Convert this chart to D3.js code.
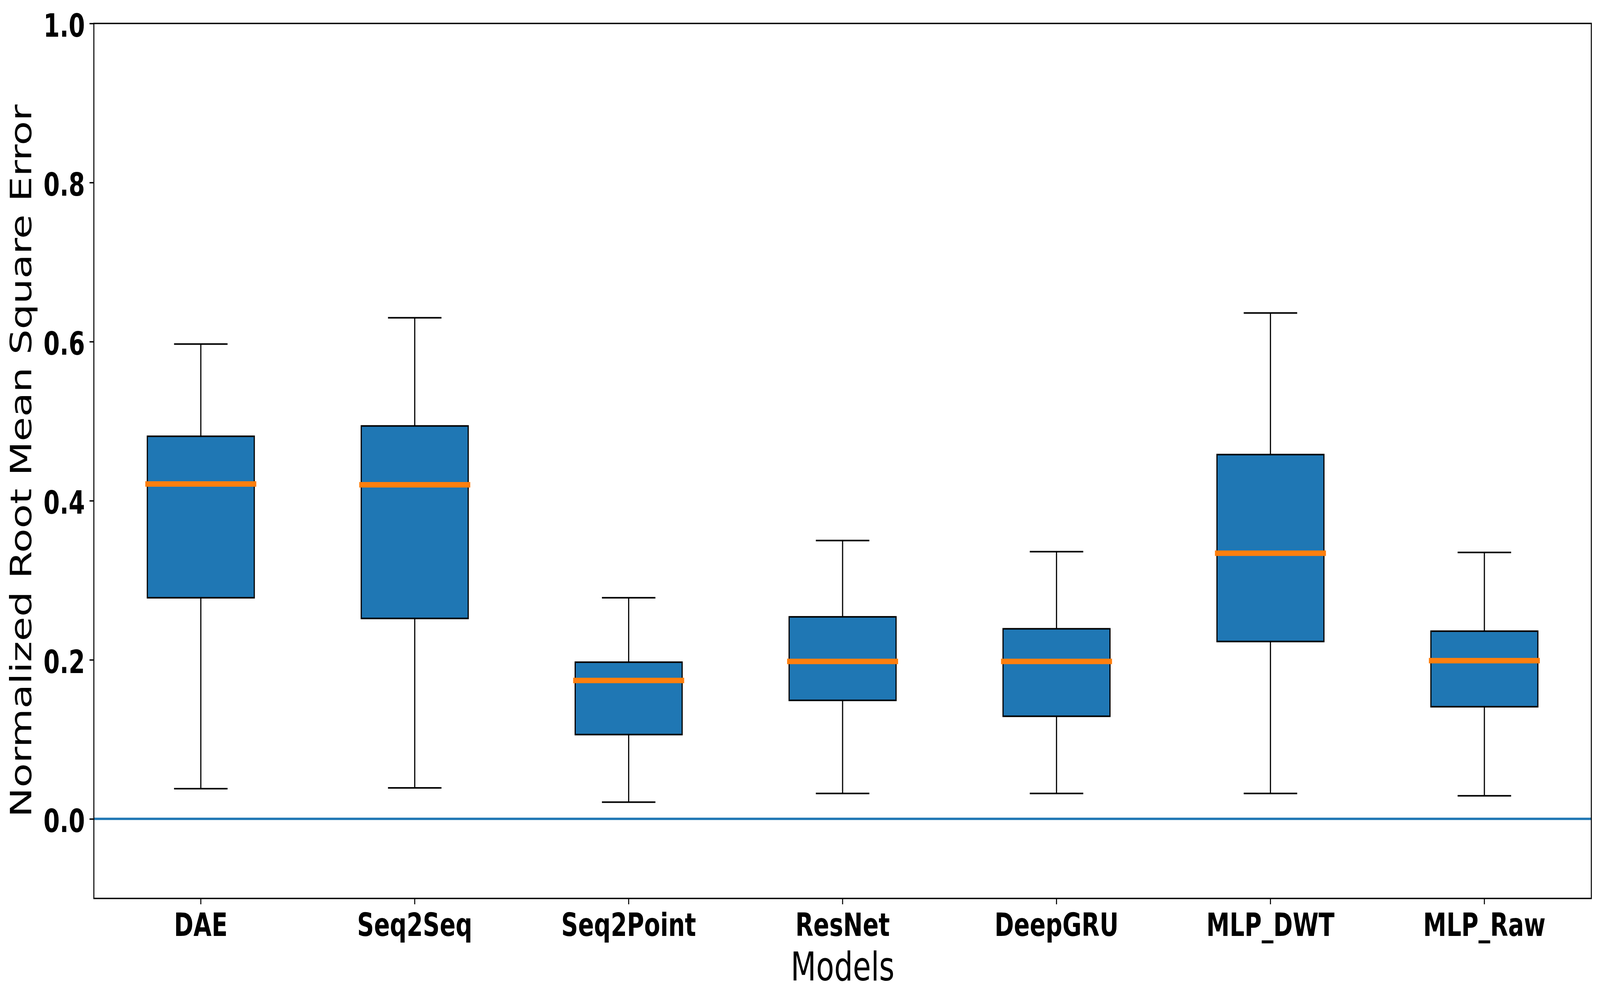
<!DOCTYPE html>
<html>
<head>
<meta charset="utf-8">
<script src="https://cdn.jsdelivr.net/npm/d3@7"></script>
<style>
  html, body { margin: 0; padding: 0; width: 100%; height: 100%; overflow: hidden; background: #ffffff; }
  svg { display: block; width: 100vw; height: 100vh; }
</style>
</head>
<body>
<svg id="chart" viewBox="0 0 5541 2560" preserveAspectRatio="none"></svg>
<script>
// ---- data ----
const categories = ["DAE", "Seq2Seq", "Seq2Point", "ResNet", "DeepGRU", "MLP_DWT", "MLP_Raw"];
const whiskerLow  = [0.038, 0.039, 0.021, 0.032, 0.032, 0.032, 0.029];
const q1          = [0.278, 0.252, 0.106, 0.149, 0.129, 0.223, 0.141];
const medians     = [0.421, 0.420, 0.174, 0.198, 0.198, 0.334, 0.199];
const q3          = [0.481, 0.494, 0.197, 0.254, 0.239, 0.458, 0.236];
const whiskerHigh = [0.597, 0.630, 0.278, 0.350, 0.336, 0.636, 0.335];
const yTicks = [0.0, 0.2, 0.4, 0.6, 0.8, 1.0];
const yDomain = [-0.1, 1.0];
const xLabel = "Models";
const yLabel = "Normalized Root Mean Square Error";

const boxes = categories.map((c, i) => ({
  name: c, lo: whiskerLow[i], q1: q1[i], med: medians[i], q3: q3[i], hi: whiskerHigh[i]
}));

// ---- layout ----
const W = 5541, H = 2560;
const plotL = 325, plotR = 5511, plotT = 60, plotB = 2300;
const font = "'DejaVu Sans', 'Liberation Sans', sans-serif";
const blue = "#1f77b4", orange = "#ff7f0e";

const svg = d3.select("#chart");
svg.append("rect").attr("width", W).attr("height", H).attr("fill", "#fff");

const x = d3.scaleBand().domain(categories).range([plotL, plotR]).paddingInner(0).paddingOuter(0);
const y = d3.scaleLinear().domain(yDomain).range([plotB, plotT]);
const bw = x.bandwidth();
const cx = d => x(d) + bw / 2;

const g = svg.append("g");

// zero line (axhline)
g.append("line")
  .attr("x1", plotL).attr("x2", plotR)
  .attr("y1", y(0)).attr("y2", y(0))
  .attr("stroke", blue).attr("stroke-width", 6);

// boxes
const bg = g.selectAll("g.box").data(boxes).enter().append("g").attr("class", "box");

// whiskers
bg.append("line")
  .attr("x1", d => cx(d.name)).attr("x2", d => cx(d.name))
  .attr("y1", d => y(d.q1)).attr("y2", d => y(d.lo))
  .attr("stroke", "#000").attr("stroke-width", 4);
bg.append("line")
  .attr("x1", d => cx(d.name)).attr("x2", d => cx(d.name))
  .attr("y1", d => y(d.q3)).attr("y2", d => y(d.hi))
  .attr("stroke", "#000").attr("stroke-width", 4);
// caps
["lo", "hi"].forEach(k => {
  bg.append("line")
    .attr("x1", d => cx(d.name) - bw * 0.125).attr("x2", d => cx(d.name) + bw * 0.125)
    .attr("y1", d => y(d[k])).attr("y2", d => y(d[k]))
    .attr("stroke", "#000").attr("stroke-width", 4);
});
// box rect
bg.append("rect")
  .attr("x", d => cx(d.name) - bw * 0.25)
  .attr("width", bw * 0.5)
  .attr("y", d => y(d.q3))
  .attr("height", d => y(d.q1) - y(d.q3))
  .attr("fill", blue).attr("stroke", "#000").attr("stroke-width", 4);
// median
bg.append("line")
  .attr("x1", d => cx(d.name) - bw * 0.25).attr("x2", d => cx(d.name) + bw * 0.25)
  .attr("y1", d => y(d.med)).attr("y2", d => y(d.med))
  .attr("stroke", orange).attr("stroke-width", 14).attr("stroke-linecap", "square");

// frame
svg.append("rect")
  .attr("x", plotL).attr("y", plotT)
  .attr("width", plotR - plotL).attr("height", plotB - plotT)
  .attr("fill", "none").attr("stroke", "#000").attr("stroke-width", 3.5);

// y axis
const yAxis = svg.append("g").attr("transform", `translate(${plotL},0)`)
  .call(d3.axisLeft(y).tickValues(yTicks).tickFormat(d3.format(".1f")).tickSize(15).tickPadding(16));
yAxis.select(".domain").remove();
yAxis.selectAll(".tick line").attr("stroke", "#000").attr("stroke-width", 3.5);
yAxis.selectAll(".tick text")
  .attr("dy", "33px")
  .attr("fill", "#000")
  .style("font-family", font).style("font-size", "81px").style("font-weight", "bold");

// x axis
const xAxis = svg.append("g").attr("transform", `translate(0,${plotB})`)
  .call(d3.axisBottom(x).tickSize(15).tickPadding(14));
xAxis.select(".domain").remove();
xAxis.selectAll(".tick line").attr("stroke", "#000").attr("stroke-width", 3.5);
xAxis.selectAll(".tick text")
  .attr("y", 96).attr("dy", 0)
  .attr("fill", "#000")
  .style("font-family", font).style("font-size", "81px").style("font-weight", "bold");

// axis labels
svg.append("text")
  .attr("x", (plotL + plotR) / 2).attr("y", 2510)
  .attr("text-anchor", "middle")
  .style("font-family", font).style("font-size", "102px")
  .text(xLabel);

svg.append("text")
  .attr("transform", `translate(108,${(plotT + plotB) / 2}) rotate(-90)`)
  .attr("text-anchor", "middle")
  .style("font-family", font).style("font-size", "102px")
  .text(yLabel);
</script>
</body>
</html>
